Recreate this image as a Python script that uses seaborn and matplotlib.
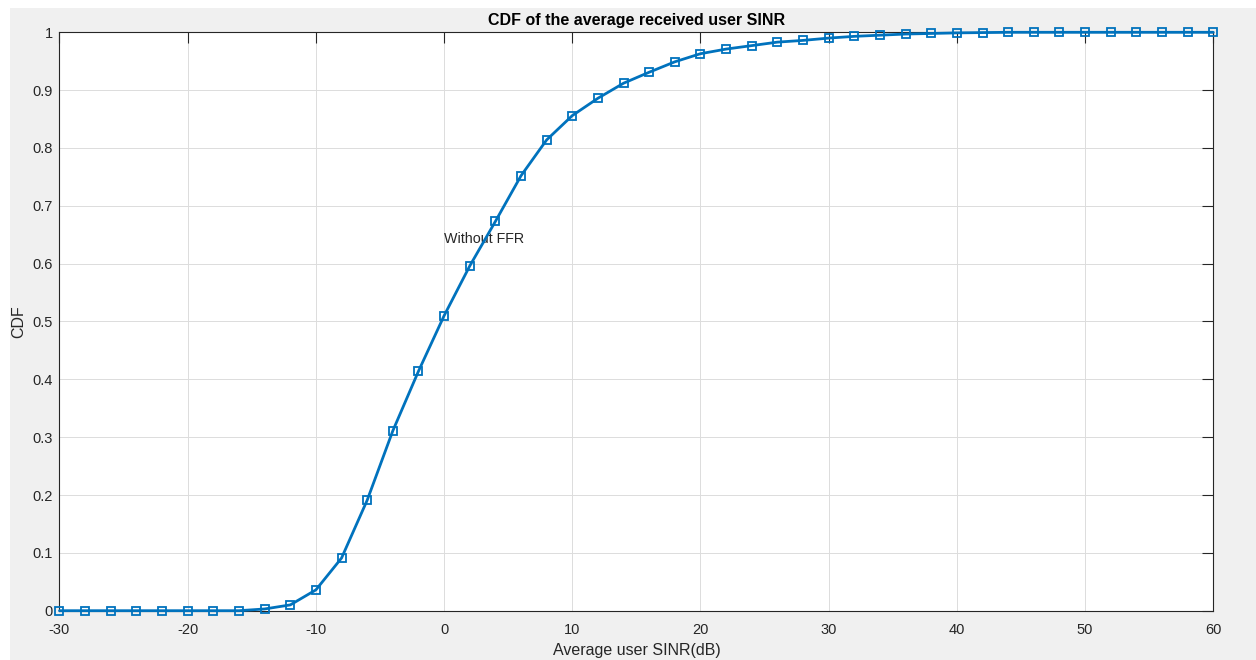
import numpy as np
import pandas as pd
import seaborn as sns
import matplotlib
matplotlib.use("Agg")
import matplotlib.pyplot as plt
from matplotlib.patches import Rectangle
from matplotlib.ticker import FuncFormatter

# Average received user SINR (dB) and its empirical CDF
sinr_db = [-30, -28, -26, -24, -22, -20, -18, -16, -14, -12, -10, -8, -6, -4, -2,
           0, 2, 4, 6, 8, 10, 12, 14, 16, 18, 20, 22, 24, 26, 28, 30, 32, 34, 36,
           38, 40, 42, 44, 46, 48, 50, 52, 54, 56, 58, 60]
cdf = [0.0, 0.0, 0.0, 0.0, 0.0, 0.0, 0.0, 0.0, 0.003, 0.010, 0.036, 0.091,
       0.191, 0.311, 0.414, 0.510, 0.596, 0.673, 0.752, 0.814, 0.856, 0.886,
       0.912, 0.931, 0.949, 0.963, 0.971, 0.977, 0.983, 0.986, 0.990, 0.993,
       0.995, 0.997, 0.998, 0.999, 0.9995, 1.0, 1.0, 1.0, 1.0, 1.0, 1.0, 1.0,
       1.0, 1.0]

x_ticks = [-30, -20, -10, 0, 10, 20, 30, 40, 50, 60]
y_ticks = [0, 0.1, 0.2, 0.3, 0.4, 0.5, 0.6, 0.7, 0.8, 0.9, 1.0]

title_text = "CDF of the average received user SINR"
x_label = "Average user SINR(dB)"
y_label = "CDF"
note_text = "Without FFR"
note_xy = (0, 0.636)

sns.set_theme(style="white")
plt.rcParams["font.family"] = ["Liberation Sans", "DejaVu Sans"]
plt.rcParams["axes.unicode_minus"] = False

ink = "#262626"
blue = "#0072BD"

fig = plt.figure(figsize=(12.56, 6.60), dpi=100)
fig.patch.set_facecolor("white")
# grey figure panel behind the axes
fig.add_artist(Rectangle((10 / 1256, 0), 1 - 10 / 1256, 1 - 8.3 / 660,
                         transform=fig.transFigure, facecolor="#f0f0f0",
                         edgecolor="none", zorder=-10))

ax = fig.add_axes([0.04737, 0.07470, 0.91863, 0.87636])
ax.set_facecolor("white")

df = pd.DataFrame({"sinr": sinr_db, "cdf": cdf})
sns.lineplot(data=df, x="sinr", y="cdf", ax=ax, color=blue, linewidth=2.0,
             marker="s", markersize=6, markerfacecolor="none",
             markeredgecolor=blue, markeredgewidth=1.3, clip_on=False,
             zorder=5)

ax.set_xlim(-30, 60)
ax.set_ylim(0, 1)
ax.set_xticks(x_ticks)
ax.set_yticks(y_ticks)
ax.xaxis.set_major_formatter(FuncFormatter(lambda v, p: f"{v:g}"))
ax.yaxis.set_major_formatter(FuncFormatter(lambda v, p: f"{v:g}"))

ax.grid(True, color="#dcdcdc", linewidth=0.7)
ax.set_axisbelow(True)
for s in ax.spines.values():
    s.set_visible(True)
    s.set_color(ink)
    s.set_linewidth(0.8)

ax.tick_params(axis="both", which="major", direction="in", length=8, width=0.8,
               color=ink, labelcolor=ink, labelsize=10.5, top=True, right=True)
ax.tick_params(axis="x", pad=8.5)
ax.tick_params(axis="y", pad=5)

ax.set_title(title_text, fontsize=11.5, fontweight="bold", color="black", pad=5.3)
ax.set_xlabel(x_label, fontsize=11.5, color=ink)
ax.set_ylabel(y_label, fontsize=11.5, color=ink)
ax.xaxis.set_label_coords(0.5, -0.0766)
ax.xaxis.label.set_va("baseline")
ax.yaxis.set_label_coords(-0.0314, 0.5)
ax.yaxis.label.set_va("baseline")

ax.text(note_xy[0], note_xy[1], note_text, fontsize=10.3, color=ink,
        ha="left", va="baseline")

fig.savefig("out.png", dpi=100)
